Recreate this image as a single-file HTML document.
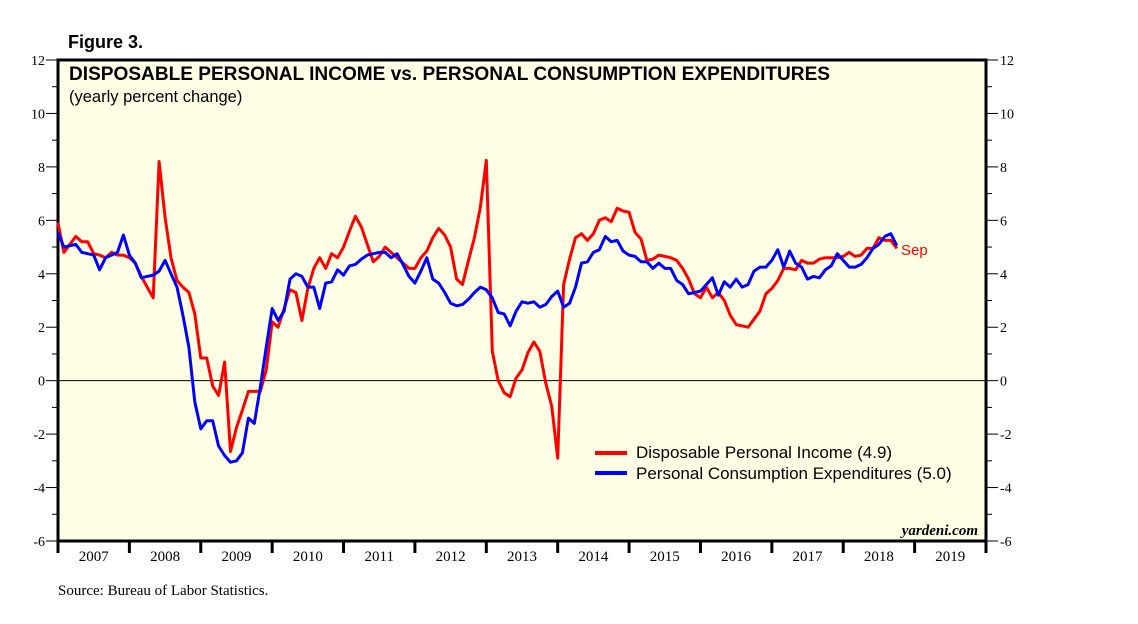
<!DOCTYPE html>
<html><head><meta charset="utf-8"><style>
body{margin:0;background:#fff;width:1138px;height:624px;overflow:hidden;}
svg{display:block;}
</style></head><body>
<svg id="chart" width="1138" height="624">
<text x="68" y="48" font-family="Liberation Sans, sans-serif" font-weight="bold" font-size="18">Figure 3.</text>
<rect x="58" y="60" width="928" height="481" fill="#FFFFE6" stroke="#000" stroke-width="3"/>
<text x="69" y="80" font-family="Liberation Sans, sans-serif" font-weight="bold" font-size="19" textLength="761" lengthAdjust="spacingAndGlyphs">DISPOSABLE PERSONAL INCOME vs. PERSONAL CONSUMPTION EXPENDITURES</text>
<text x="69" y="102" font-family="Liberation Sans, sans-serif" font-size="16.5">(yearly percent change)</text>
<g id="axes"></g>
<g id="series"></g>
<g>
<line x1="595" y1="453" x2="627" y2="453" stroke="#f00" stroke-width="4"/>
<text x="636" y="458" font-family="Liberation Sans, sans-serif" font-size="17">Disposable Personal Income (4.9)</text>
<line x1="595" y1="473" x2="627" y2="473" stroke="#00f" stroke-width="4"/>
<text x="636" y="479" font-family="Liberation Sans, sans-serif" font-size="17">Personal Consumption Expenditures (5.0)</text>
</g>
<text x="901" y="255" fill="#f00" font-family="Liberation Sans, sans-serif" font-size="15">Sep</text>
<text x="978" y="535" text-anchor="end" font-family="Liberation Serif, serif" font-style="italic" font-weight="bold" font-size="15">yardeni.com</text>
<text x="58" y="595" font-family="Liberation Serif, serif" font-size="15">Source: Bureau of Labor Statistics.</text>
</svg>
<script>
const years = ["2007","2008","2009","2010","2011","2012","2013","2014","2015","2016","2017","2018","2019"];
const yTicks = [-6,-4,-2,0,2,4,6,8,10,12];
const dpi = [5.9,4.8,5.1,5.4,5.2,5.2,4.75,4.7,4.6,4.8,4.7,4.7,4.6,4.4,3.9,3.5,3.1,8.2,6.1,4.6,3.75,3.5,3.3,2.5,0.85,0.85,-0.2,-0.55,0.7,-2.65,-1.75,-1.1,-0.4,-0.4,-0.4,0.4,2.2,2.0,2.7,3.4,3.3,2.25,3.45,4.2,4.6,4.2,4.75,4.6,5.0,5.6,6.15,5.75,5.1,4.45,4.65,5.0,4.8,4.6,4.4,4.2,4.2,4.6,4.85,5.35,5.7,5.45,5.0,3.8,3.6,4.5,5.35,6.5,8.25,1.1,0,-0.45,-0.6,0.1,0.4,1.05,1.45,1.1,-0.1,-0.95,-2.9,3.6,4.55,5.35,5.5,5.25,5.5,6.0,6.1,5.95,6.45,6.35,6.3,5.55,5.3,4.5,4.55,4.7,4.65,4.6,4.5,4.2,3.8,3.25,3.1,3.5,3.1,3.3,3.0,2.45,2.1,2.05,2.0,2.3,2.6,3.25,3.45,3.75,4.2,4.2,4.15,4.5,4.4,4.4,4.55,4.6,4.6,4.6,4.65,4.8,4.65,4.7,4.95,4.95,5.35,5.25,5.25,4.95];
const pce = [5.55,5.0,5.05,5.1,4.8,4.75,4.7,4.15,4.6,4.7,4.8,5.45,4.7,4.4,3.85,3.9,3.95,4.1,4.5,4.0,3.5,2.45,1.25,-0.8,-1.8,-1.5,-1.5,-2.45,-2.8,-3.05,-3.0,-2.7,-1.4,-1.6,-0.25,1.25,2.7,2.25,2.6,3.8,4.0,3.9,3.5,3.5,2.7,3.65,3.7,4.15,3.95,4.3,4.35,4.55,4.7,4.75,4.8,4.8,4.6,4.75,4.35,3.9,3.65,4.1,4.6,3.8,3.65,3.3,2.9,2.8,2.85,3.05,3.3,3.5,3.4,3.1,2.55,2.5,2.05,2.6,2.95,2.9,2.95,2.75,2.85,3.15,3.35,2.75,2.9,3.5,4.4,4.45,4.8,4.9,5.4,5.2,5.25,4.85,4.7,4.65,4.45,4.45,4.2,4.4,4.2,4.2,3.75,3.6,3.25,3.3,3.35,3.6,3.85,3.2,3.7,3.5,3.8,3.5,3.6,4.1,4.25,4.25,4.5,4.9,4.25,4.85,4.4,4.25,3.8,3.9,3.85,4.15,4.3,4.75,4.5,4.25,4.25,4.35,4.6,4.95,5.1,5.4,5.5,5.05];

const NS='http://www.w3.org/2000/svg';
const X0=58,X1=986,Y0=60,Y1=541,YMIN=-6,YMAX=12;
const monthW=(X1-X0)/(years.length*12);
function xScale(i){return X0+monthW*i;}
function yScale(v){return Y1-(v-YMIN)/(YMAX-YMIN)*(Y1-Y0);}
function mk(tag,attrs,parent){const e=document.createElementNS(NS,tag);for(const k in attrs)e.setAttribute(k,attrs[k]);parent.appendChild(e);return e;}
const axes=document.getElementById('axes');
const zl=mk('line',{x1:X0,x2:X1,y1:yScale(0),y2:yScale(0),stroke:'#000','stroke-width':1},axes);


for(let v=YMIN;v<=YMAX;v++){
  const y=yScale(v);const major=(v%2===0);
  const l=mk('line',{x1:major?46:52,x2:X0,y1:y,y2:y,stroke:'#000','stroke-width':1},axes);
  
  
  const r=mk('line',{x1:X1,x2:major?998:992,y1:y,y2:y,stroke:'#000','stroke-width':1},axes);
  
  
}
yTicks.forEach(v=>{
  const y=yScale(v);
  const t=mk('text',{x:45,y:y+5,'text-anchor':'end','font-family':'Liberation Serif, serif','font-size':14},axes);
  t.textContent=v;
  
  
  const t2=mk('text',{x:1000,y:y+5,'font-family':'Liberation Serif, serif','font-size':14},axes);
  t2.textContent=v;
  
  
});
years.forEach((yr,k)=>{
  const x=xScale(k*12);
  const tk=mk('line',{x1:x,x2:x,y1:Y1,y2:Y1+12,stroke:'#000','stroke-width':3},axes);
  
  
  const t=mk('text',{x:xScale(k*12+6),y:561,'text-anchor':'middle','font-family':'Liberation Serif, serif','font-size':15},axes);
  t.textContent=yr;
  
  
});
const xe=mk('line',{x1:X1,x2:X1,y1:Y1,y2:Y1+12,stroke:'#000','stroke-width':3},axes);


const series=document.getElementById('series');
function draw(arr,color,name){
  const d=arr.map((v,i)=>(i?'L':'M')+xScale(i).toFixed(1)+','+yScale(v).toFixed(1)).join('');
  const p=mk('path',{d:d,fill:'none',stroke:color,'stroke-width':3,'stroke-linejoin':'round'},series);
  
  
}
draw(dpi,'#f00','dpi-line');
draw(pce,'#00f','pce-line');
</script>
</body></html>
